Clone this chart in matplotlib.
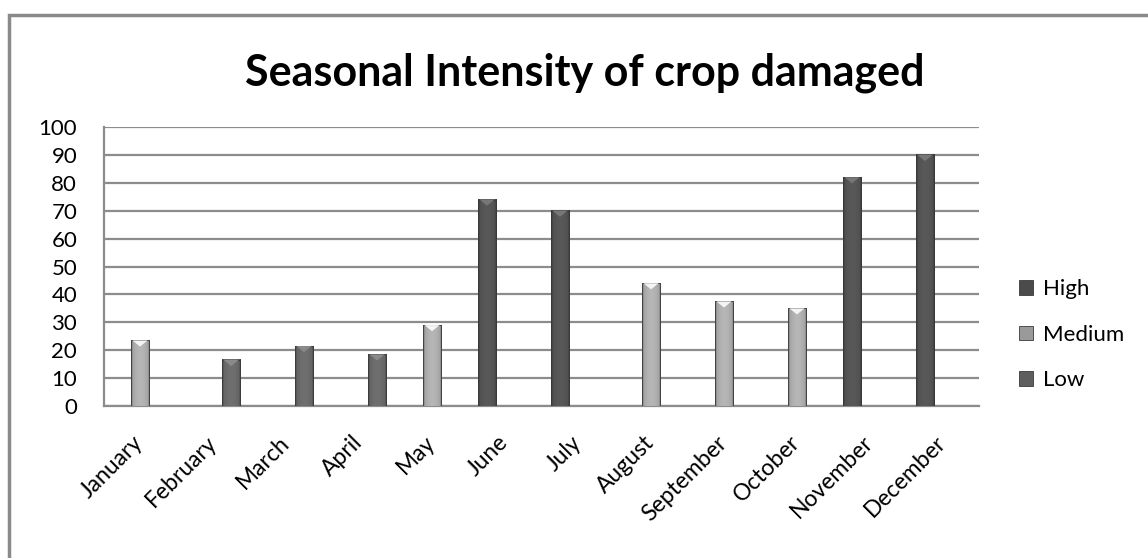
import matplotlib
matplotlib.use("Agg")
import matplotlib.pyplot as plt
import numpy as np
from matplotlib.patches import Polygon, Patch, Rectangle

plt.rcParams['font.family'] = ['Lato', 'DejaVu Sans']

# =========================
# DATA
# =========================
months = ["January", "February", "March", "April", "May", "June",
          "July", "August", "September", "October", "November", "December"]
high = [0, 0, 0, 0, 0, 74, 70, 0, 0, 0, 82, 90]
medium = [23.5, 0, 0, 0, 29, 0, 0, 44, 37.5, 35, 0, 0]
low = [0, 16.5, 21.5, 18.5, 0, 0, 0, 0, 0, 0, 0, 0]
yticks = list(range(0, 101, 10))

series = [("High", high, "#4b4b4b", "#777777"),
          ("Medium", medium, "#9a9a9a", "#f4f4f4"),
          ("Low", low, "#5e5e5e", "#8a8a8a")]

# =========================
# FIGURE
# =========================
fig = plt.figure(figsize=(11.48, 5.58), dpi=100)
fig.patches.append(Rectangle((0.008, -0.05), 1.05, 1.023, transform=fig.transFigure,
                             fill=False, edgecolor="#8a8a8a", linewidth=2.5))

ax = fig.add_axes([0.0902, 0.2724, 0.7630, 0.5000])

bw = 0.247
x = np.arange(len(months))


def shaded_bar(ax, xc, h, base, cap):
    if h <= 0:
        return
    x0, x1 = xc - bw / 2, xc + bw / 2
    # horizontal shading across the bar (darker edges, lighter middle)
    rgb = np.array(matplotlib.colors.to_rgb(base))
    t = np.linspace(-1, 1, 40)
    k = 1.0 + 0.18 * (1 - t ** 2) - 0.25 * (np.abs(t) > 0.85)
    img = np.clip(rgb[None, :] * k[:, None], 0, 1)[None, :, :]
    ax.imshow(img, extent=(x0, x1, 0, h), aspect="auto", zorder=3,
              interpolation="bilinear")
    ax.add_patch(Rectangle((x0, 0), bw, h, fill=False, edgecolor="#3a3a3a",
                           linewidth=0.6, zorder=4))
    # bevelled top
    ax.add_patch(Polygon([(x0 + 0.02, h), (x1 - 0.02, h), (xc, h - 2.2)],
                         closed=True, facecolor=cap, edgecolor="none", zorder=4))


for j, (name, vals, base, cap) in enumerate(series):
    for i, v in enumerate(vals):
        shaded_bar(ax, x[i] + (j - 1) * bw, v, base, cap)

ax.set_xlim(-0.5, len(months) - 0.5)
ax.set_ylim(0, 100)
ax.set_yticks(yticks)
ax.set_xticks(x)
ax.set_xticklabels(months, rotation=45, ha="right", va="center",
                   rotation_mode="anchor")
ax.tick_params(axis="both", length=0, labelsize=16)
ax.tick_params(axis="x", labelsize=16.5)
ax.tick_params(axis="y", pad=19)
ax.tick_params(axis="x", pad=24)
ax.grid(axis="y", color="#8c8c8c", linewidth=1.6, zorder=0)
ax.set_axisbelow(True)
for s in ["top", "right"]:
    ax.spines[s].set_visible(False)
ax.spines["left"].set_color("#8c8c8c")
ax.spines["bottom"].set_color("#8c8c8c")
ax.spines["left"].set_linewidth(1.6)
ax.spines["bottom"].set_linewidth(1.6)

fig.text(0.5096, 0.87, "Seasonal Intensity of crop damaged", ha="center",
         va="center", fontsize=31, fontweight="bold")

handles = [Patch(facecolor=b, edgecolor="#3a3a3a", linewidth=0.6) for _, _, b, _ in series]
fig.legend(handles, [s[0] for s in series], loc="center left",
           bbox_to_anchor=(0.870, 0.40), frameon=False, fontsize=16,
           handlelength=0.65, handleheight=0.65, handletextpad=0.45,
           labelspacing=1.15)

plt.savefig("out.png", dpi=100)
